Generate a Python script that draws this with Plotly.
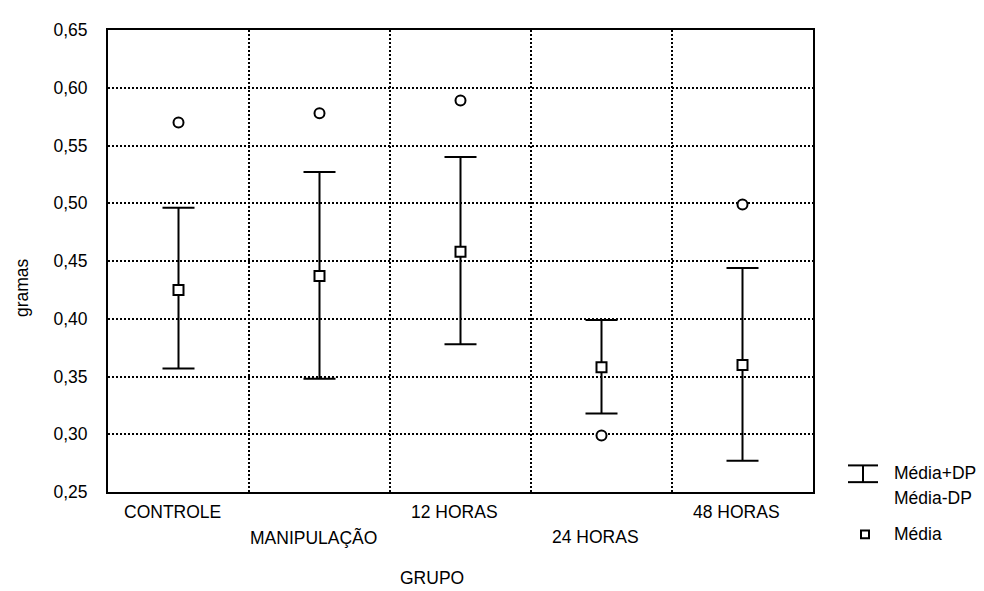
import plotly.graph_objects as go

categorias = ["CONTROLE", "MANIPULAÇÃO", "12 HORAS", "24 HORAS", "48 HORAS"]
media = [0.425, 0.437, 0.458, 0.358, 0.360]
media_mais_dp = [0.496, 0.527, 0.540, 0.399, 0.444]
media_menos_dp = [0.357, 0.348, 0.378, 0.318, 0.277]
pontos_circulo = [0.570, 0.578, 0.589, 0.299, 0.499]
y_ticks = [0.25, 0.30, 0.35, 0.40, 0.45, 0.50, 0.55, 0.60, 0.65]

x = list(range(len(categorias)))
err_plus = [u - m for u, m in zip(media_mais_dp, media)]
err_minus = [m - l for m, l in zip(media, media_menos_dp)]

FONT = "Liberation Sans, Arial, sans-serif"
FS = 17.5
fig = go.Figure()

fig.add_trace(go.Scatter(
    x=x, y=pontos_circulo, mode="markers",
    marker=dict(symbol="circle", size=10, color="white",
                line=dict(color="black", width=2)),
    showlegend=False, hoverinfo="skip"))

fig.add_trace(go.Scatter(
    x=x, y=media, mode="markers",
    marker=dict(symbol="square", size=10, color="white",
                line=dict(color="black", width=2)),
    error_y=dict(type="data", symmetric=False, array=err_plus,
                 arrayminus=err_minus, color="black", thickness=2, width=16),
    showlegend=False, hoverinfo="skip"))

# page has an 8px body margin; figure placed at (8, 8)
OFF = 8
W, H = 984 - OFF, 591 - OFF
L, T = 108 - OFF, 23 - OFF
R, B = 984 - 813, 591 - 492
PW, PH = W - L - R, H - T - B

def px(xp):
    return (xp - OFF - L) / PW

def py(yp):
    return (H - B - (yp - OFF)) / PH

ann = []
for i, c in enumerate(categorias):
    row = 0 if i % 2 == 0 else 1
    ann.append(dict(x=i, y=py(512 + 26 * row), xref="x", yref="paper",
                    text=c, showarrow=False, xshift=-6,
                    font=dict(size=FS, color="black", family=FONT),
                    xanchor="center", yanchor="middle"))

ann.append(dict(x=px(432), y=py(579), xref="paper", yref="paper", text="GRUPO",
                showarrow=False, font=dict(size=FS, color="black", family=FONT),
                xanchor="center", yanchor="middle"))
ann.append(dict(x=px(22), y=py(285), xref="paper", yref="paper", text="gramas",
                showarrow=False, textangle=-90,
                font=dict(size=FS, color="black", family=FONT),
                xanchor="center", yanchor="middle"))
for txt, yy in [("Média+DP", 473), ("Média-DP", 498), ("Média", 535)]:
    ann.append(dict(x=px(892), y=py(yy), xref="paper", yref="paper", text=txt,
                    showarrow=False, font=dict(size=FS, color="black", family=FONT),
                    xanchor="left", yanchor="middle"))

shapes = [
    dict(type="line", xref="paper", yref="paper", x0=px(848), x1=px(878),
         y0=py(465), y1=py(465), line=dict(color="black", width=2)),
    dict(type="line", xref="paper", yref="paper", x0=px(848), x1=px(878),
         y0=py(482), y1=py(482), line=dict(color="black", width=2)),
    dict(type="line", xref="paper", yref="paper", x0=px(863), x1=px(863),
         y0=py(465), y1=py(482), line=dict(color="black", width=2)),
    dict(type="rect", xref="paper", yref="paper", x0=px(861), x1=px(869),
         y0=py(531), y1=py(539), line=dict(color="black", width=2),
         fillcolor="white"),
]

fig.update_layout(
    width=W, height=H, margin=dict(l=L, r=R, t=T, b=B),
    paper_bgcolor="white", plot_bgcolor="white",
    separators=",.",
    font=dict(family=FONT, size=FS, color="black"),
    annotations=ann, shapes=shapes,
    xaxis=dict(range=[-0.5, len(categorias) - 0.5],
               tickvals=[i + 0.5 for i in range(len(categorias) - 1)],
               showticklabels=False, ticks="",
               showgrid=True, gridcolor="black", gridwidth=2, griddash="2px,2px",
               showline=True, linecolor="black", linewidth=2, mirror=True,
               zeroline=False, fixedrange=True),
    yaxis=dict(range=[0.25, 0.65], tickvals=y_ticks, tickformat=".2f",
               ticks="", ticklabelstandoff=15,
               showgrid=True, gridcolor="black", gridwidth=2, griddash="2px,2px",
               showline=True, linecolor="black", linewidth=2, mirror=True,
               zeroline=False, fixedrange=True,
               tickfont=dict(size=FS, family=FONT, color="black")),
)

fig.write_html("out.html")
